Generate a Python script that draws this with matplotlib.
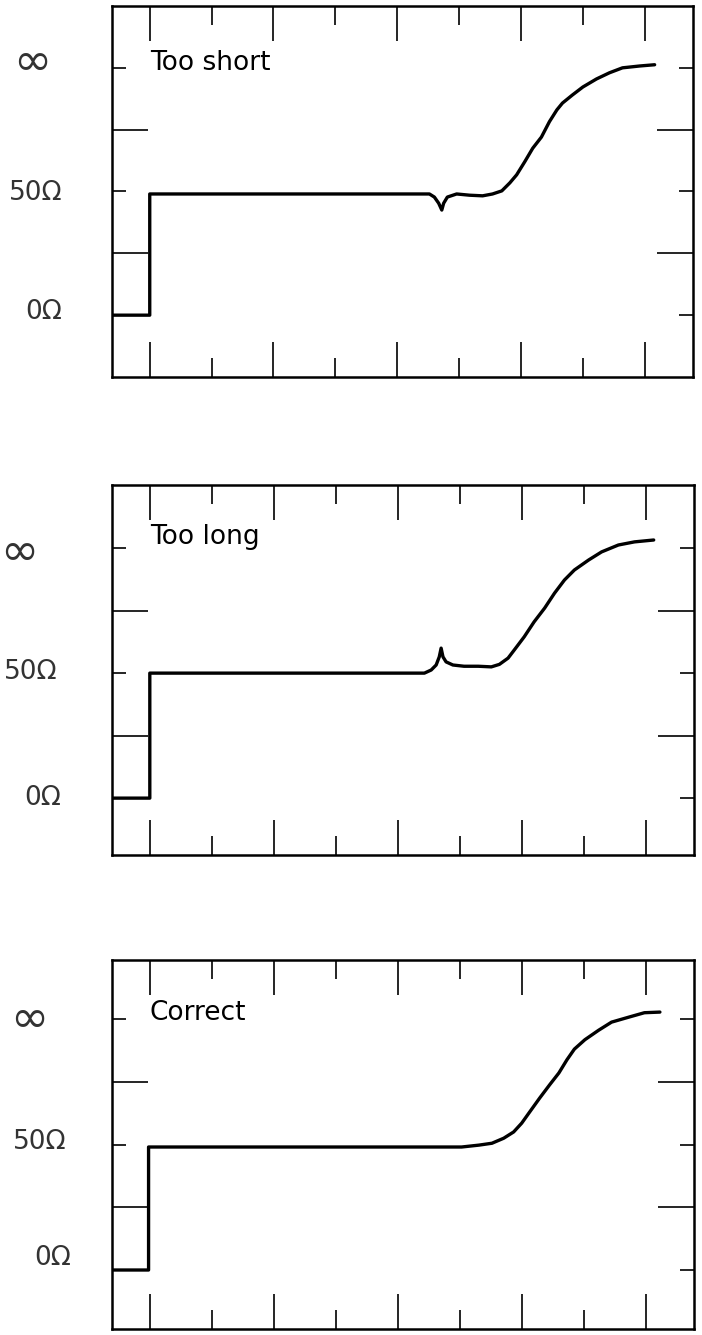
import matplotlib
matplotlib.use('Agg')
import matplotlib.pyplot as plt

# 波形数据 (x: 刻度单位, y: 0=0Ω, 2=50Ω, 4=∞)
titles = ['Too short', 'Too long', 'Correct']
y_labels = ['0Ω', '50Ω', '∞']

short_x = [0.39, 1.0, 1.0, 5.20, 5.52, 5.60, 5.67, 5.72, 5.75, 5.81, 5.96, 6.17, 6.38,
           6.54, 6.69, 6.82, 6.93, 7.06, 7.19, 7.33, 7.46, 7.58, 7.67, 7.83, 8.00,
           8.22, 8.43, 8.64, 8.92, 9.16]
short_y = [0, 0, 1.96, 1.96, 1.96, 1.91, 1.81, 1.70, 1.81, 1.91, 1.96, 1.94, 1.93,
           1.96, 2.01, 2.14, 2.27, 2.48, 2.70, 2.88, 3.13, 3.32, 3.43, 3.56, 3.69,
           3.82, 3.92, 4.00, 4.03, 4.05]

long_x = [0.39, 1.0, 1.0, 5.22, 5.43, 5.54, 5.62, 5.67, 5.70, 5.73, 5.78, 5.89, 6.07,
          6.30, 6.51, 6.64, 6.78, 6.88, 7.04, 7.20, 7.37, 7.53, 7.69, 7.85, 8.08,
          8.29, 8.56, 8.82, 9.13]
long_y = [0, 0, 2.0, 2.0, 2.0, 2.05, 2.13, 2.26, 2.40, 2.26, 2.18, 2.13, 2.11,
          2.11, 2.10, 2.14, 2.24, 2.37, 2.58, 2.82, 3.04, 3.28, 3.49, 3.65, 3.81,
          3.94, 4.05, 4.10, 4.13]

ok_x = [0.39, 0.98, 0.98, 5.71, 6.03, 6.31, 6.52, 6.71, 6.87, 7.00, 7.13, 7.29, 7.45,
        7.60, 7.73, 7.85, 8.02, 8.24, 8.45, 8.73, 8.98, 9.23]
ok_y = [0, 0, 1.96, 1.96, 1.96, 1.99, 2.02, 2.10, 2.20, 2.34, 2.52, 2.74, 2.95,
        3.14, 3.35, 3.52, 3.67, 3.82, 3.95, 4.03, 4.10, 4.11]

traces = [(short_x, short_y), (long_x, long_y), (ok_x, ok_y)]
title_y = [3.97, 4.06, 3.98]

W, H = 702, 1335
# 每个面板: 像素位置 (left, top, right, bottom), y 范围
panels = [
    ((112, 6, 693, 377), (-1.0, 5.0)),
    ((112, 485, 694, 855), (-0.91, 5.01)),
    ((112, 960, 694, 1329), (-0.94, 4.94)),
]
# 标签像素中心 (0Ω, 50Ω, ∞)
label_pos = [
    [(44, 312), (36, 193), (32, 62)],
    [(43, 798), (31, 672), (19, 552)],
    [(53, 1258), (40, 1142), (29, 1019)],
]

fig = plt.figure(figsize=(W / 100, H / 100), dpi=100)

for k in range(3):
    (l, t, r, b), ylim = panels[k]
    ax = fig.add_axes([l / W, 1 - b / H, (r - l) / W, (b - t) / H])
    x, y = traces[k]
    ax.plot(x, y, color='black', lw=2.4, solid_joinstyle='round', solid_capstyle='round')
    ax.set_xlim(0.39, 9.78)
    ax.set_ylim(*ylim)

    ax.set_xticks([1, 3, 5, 7, 9])
    ax.set_xticks([2, 4, 6, 8], minor=True)
    ax.set_yticks([0, 2, 4])
    ax.set_yticks([1, 3], minor=True)
    ax.tick_params(axis='x', which='major', direction='in', length=25, width=1.2,
                   top=True, bottom=True, labelbottom=False)
    ax.tick_params(axis='x', which='minor', direction='in', length=14, width=1.2,
                   top=True, bottom=True)
    ax.tick_params(axis='y', which='major', direction='in', length=10, width=1.2,
                   left=True, right=True, labelleft=False)
    ax.tick_params(axis='y', which='minor', direction='in', length=26, width=1.2,
                   left=True, right=True)
    for s in ax.spines.values():
        s.set_linewidth(1.8)

    ax.text(1.0, title_y[k], titles[k], fontsize=19, ha='left', va='baseline',
            family='DejaVu Sans')

    for j in range(3):
        px, py = label_pos[k][j]
        size = 33 if y_labels[j] == '∞' else 19
        fig.text(px / W, 1 - py / H, y_labels[j], fontsize=size, ha='center',
                 va='center', family='DejaVu Sans', color='#333333')

fig.savefig('out.png', dpi=100, facecolor='white')
